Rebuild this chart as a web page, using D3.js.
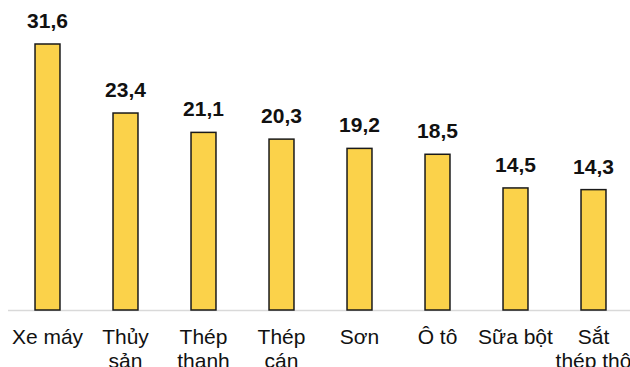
<!DOCTYPE html>
<html>
<head>
<meta charset="utf-8">
<script src="https://cdn.jsdelivr.net/npm/d3@7"></script>
<style>
  body { margin: 0; background: #fff; }
  svg { display: block; font-family: Arial, "Liberation Sans", sans-serif; }
</style>
</head>
<body>
<div id="chart"></div>
<script>
(function(){
  // chart data
  const categories = ["Xe máy", "Thủy sản", "Thép thanh", "Thép cán", "Sơn", "Ô tô", "Sữa bột", "Sắt thép thô"];
  const labelLines = [["Xe máy"], ["Thủy", "sản"], ["Thép", "thanh"], ["Thép", "cán"], ["Sơn"], ["Ô tô"], ["Sữa bột"], ["Sắt", "thép thô"]];
  const values = [31.6, 23.4, 21.1, 20.3, 19.2, 18.5, 14.5, 14.3];

  const width = 630, height = 367;
  const baseY = 310;

  const svg = d3.select("#chart").append("svg")
      .attr("width", width)
      .attr("height", height);

  // band scale: step 78px, bar 25px wide
  const x = d3.scaleBand()
      .domain(categories)
      .range([8.5, 632.5])
      .paddingInner(0.68)
      .paddingOuter(0.34);

  const y = d3.scaleLinear()
      .domain([0, 31.6])
      .range([baseY, 44]);

  // baseline
  svg.append("line")
      .attr("x1", 8).attr("x2", 630)
      .attr("y1", baseY + 0.5).attr("y2", baseY + 0.5)
      .attr("stroke", "#d9d9d9")
      .attr("stroke-width", 1.5);

  // bars
  svg.append("g").selectAll("rect")
      .data(values)
      .join("rect")
      .attr("x", (d, i) => x(categories[i]))
      .attr("y", d => y(d))
      .attr("width", x.bandwidth())
      .attr("height", d => baseY - y(d))
      .attr("fill", "#fbd24a")
      .attr("stroke", "#1a1a1a")
      .attr("stroke-width", 1.5);

  // value labels
  svg.append("g").selectAll("text")
      .data(values)
      .join("text")
      .attr("x", (d, i) => x(categories[i]) + x.bandwidth() / 2)
      .attr("y", d => y(d) - 16)
      .attr("text-anchor", "middle")
      .attr("font-size", 21)
      .attr("font-weight", "bold")
      .attr("fill", "#111")
      .text(d => d.toFixed(1).replace(".", ","));

  // category labels
  const cat = svg.append("g").selectAll("text")
      .data(labelLines)
      .join("text")
      .attr("text-anchor", "middle")
      .attr("font-size", 21)
      .attr("fill", "#111");

  cat.each(function(lines, i) {
      const cx = x(categories[i]) + x.bandwidth() / 2;
      d3.select(this).selectAll("tspan")
          .data(lines)
          .join("tspan")
          .attr("x", cx)
          .attr("y", (d, j) => 344 + j * 24)
          .text(d => d);
  });
})();
</script>
</body>
</html>
